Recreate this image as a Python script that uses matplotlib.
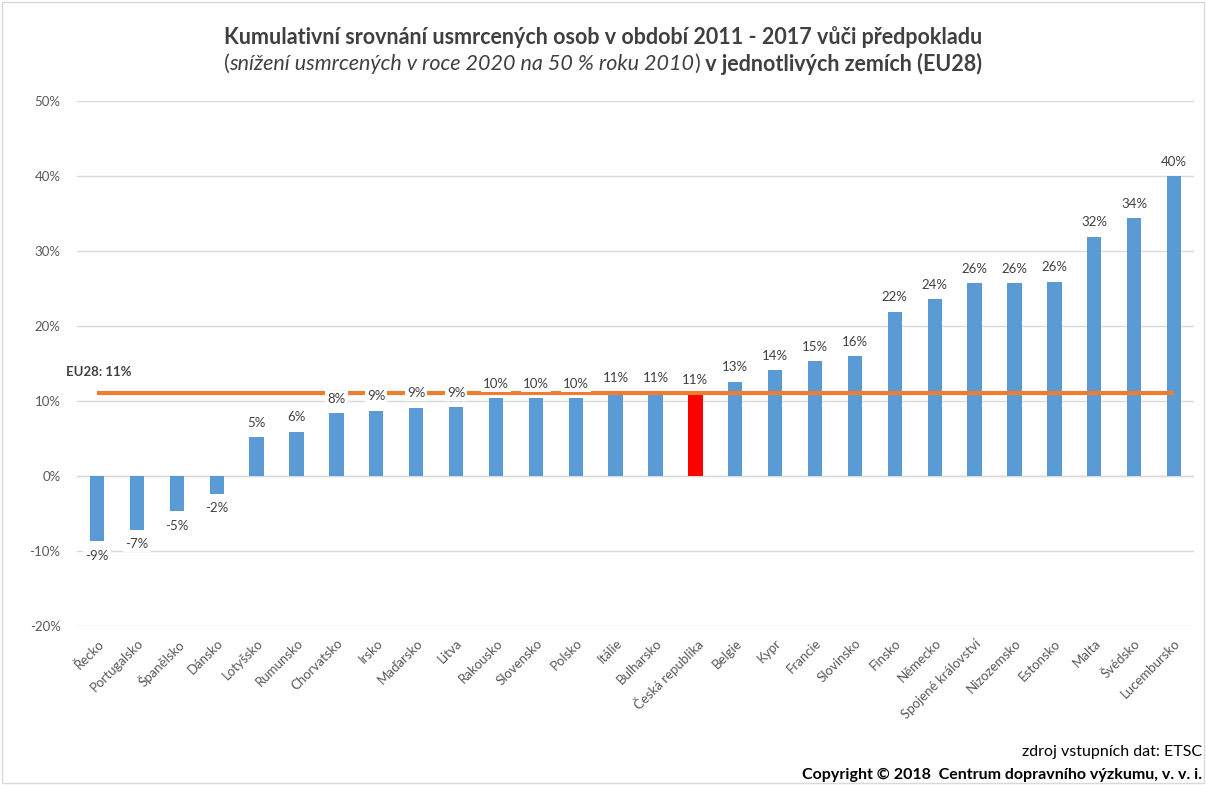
import matplotlib.pyplot as plt
import numpy as np

countries = ['Řecko', 'Portugalsko', 'Španělsko', 'Dánsko', 'Lotyšsko', 'Rumunsko',
             'Chorvatsko', 'Irsko', 'Maďarsko', 'Litva', 'Rakousko', 'Slovensko',
             'Polsko', 'Itálie', 'Bulharsko', 'Česká republika', 'Belgie', 'Kypr',
             'Francie', 'Slovinsko', 'Finsko', 'Německo', 'Spojené království',
             'Nizozemsko', 'Estonsko', 'Malta', 'Švédsko', 'Lucembursko']
values = [-8.7, -7.2, -4.7, -2.4, 5.2, 5.9, 8.4, 8.7, 9.1, 9.2, 10.4, 10.4,
          10.4, 11.1, 11.1, 10.9, 12.6, 14.1, 15.3, 16.0, 21.9, 23.6, 25.7,
          25.7, 25.9, 31.9, 34.4, 40.0]
eu28 = 11.1
highlight = 'Česká republika'

plt.rcParams['font.family'] = ['Lato', 'DejaVu Sans']

fig = plt.figure(figsize=(12.06, 7.85), dpi=100)
ax = fig.add_axes([0.064, 0.2025, 0.926, 0.6688])

x = np.arange(len(countries))
colors = ['#FF0000' if c == highlight else '#5B9BD5' for c in countries]
ax.bar(x, values, width=0.36, color=colors, zorder=2)
ax.plot(x, [eu28] * len(x), color='#ED7D31', lw=3, zorder=3, solid_capstyle='butt')

for xi, v in zip(x, values):
    if v >= 0:
        ax.annotate(f'{v:.0f}%', (xi, v), xytext=(0, 6), textcoords='offset points',
                    ha='center', va='bottom', fontsize=9.5, color='#404040', zorder=4,
                    bbox=dict(boxstyle='square,pad=0.15', fc='white', ec='none'))
    else:
        ax.annotate(f'{v:.0f}%', (xi, v), xytext=(0, -6), textcoords='offset points',
                    ha='center', va='top', fontsize=9.5, color='#404040', zorder=4,
                    bbox=dict(boxstyle='square,pad=0.15', fc='white', ec='none'))

ax.text(-0.78, eu28 + 2.0, 'EU28: 11%', fontsize=9.5, fontweight='bold', color='#404040',
        ha='left', va='bottom')

ax.set_xlim(-0.5, len(x) - 0.5)
ax.set_ylim(-20, 50)
ax.set_yticks(range(-20, 51, 10))
ax.set_yticklabels([f'{t}%' for t in range(-20, 51, 10)])
ax.yaxis.grid(True, color='#D9D9D9', lw=1, zorder=0)
ax.set_axisbelow(True)
for s in ax.spines.values():
    s.set_visible(False)
ax.axhline(0, color='#D9D9D9', lw=1, zorder=1)
ax.tick_params(axis='y', length=0, labelsize=9.5, labelcolor='#595959', pad=12)
ax.tick_params(axis='x', length=0, labelsize=9.5, labelcolor='#595959', pad=8)
ax.set_xticks(x)
ax.set_xticklabels(countries, rotation=45, ha='right', rotation_mode='anchor')

fig.text(0.5, 0.953, 'Kumulativní srovnání usmrcených osob v období 2011 - 2017 vůči předpokladu',
         ha='center', va='center', fontsize=15.5, fontweight='bold', color='#404040')

# subtitle in mixed styles
sub_y = 0.919
t1 = fig.text(0.185, sub_y, '(', ha='left', va='center', fontsize=15.5, color='#404040')
fig.canvas.draw()
r = fig.canvas.get_renderer()
xpos = t1.get_window_extent(r).x1
t2 = fig.text(xpos / fig.bbox.width, sub_y, 'snížení usmrcených v roce 2020 na 50 % roku 2010',
              ha='left', va='center', fontsize=15.5, style='italic', color='#404040')
xpos = t2.get_window_extent(r).x1
t3 = fig.text(xpos / fig.bbox.width, sub_y, ')', ha='left', va='center', fontsize=15.5, color='#404040')
xpos = t3.get_window_extent(r).x1
t4 = fig.text(xpos / fig.bbox.width, sub_y, ' v jednotlivých zemích (EU28)', ha='left', va='center',
              fontsize=15.5, fontweight='bold', color='#404040')
total = t4.get_window_extent(r).x1 - t1.get_window_extent(r).x0
shift = (fig.bbox.width / 2 - total / 2) - t1.get_window_extent(r).x0
for t in (t1, t2, t3, t4):
    px, py = t.get_position()
    t.set_position((px + shift / fig.bbox.width, py))

fig.text(0.997, 0.042, 'zdroj vstupních dat: ETSC', ha='right', va='center', fontsize=11.5, color='black')
fig.text(0.997, 0.013, 'Copyright © 2018  Centrum dopravního výzkumu, v. v. i.', ha='right', va='center',
         fontsize=11.5, fontweight='bold', color='black')

fig.patches.append(plt.Rectangle((0.002, 0.002), 0.996, 0.996, transform=fig.transFigure,
                                 fill=False, ec='#D9D9D9', lw=1))

plt.savefig('out.png', dpi=100)
